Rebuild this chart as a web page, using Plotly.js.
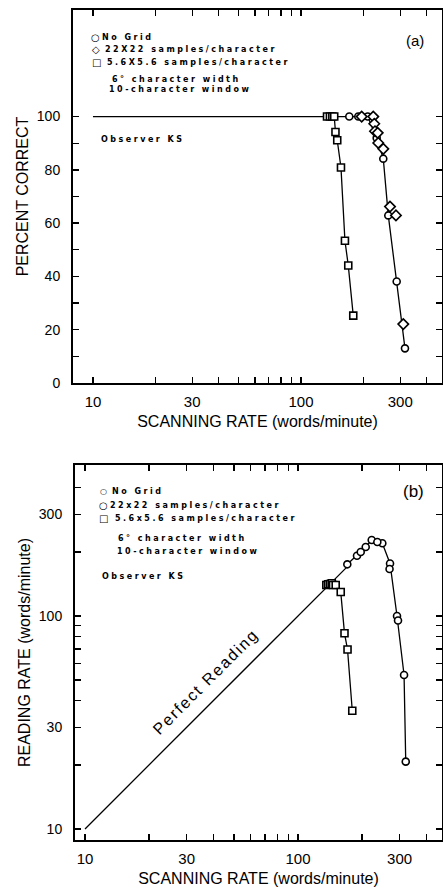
<!DOCTYPE html>
<html>
<head>
<meta charset="utf-8">
<script src="https://cdn.plot.ly/plotly-3.0.1.min.js"></script>
<style>
html,body{margin:0;padding:0;background:#fff;}
#chart{width:443px;height:889px;}
</style>
</head>
<body>
<div id="chart"></div>
<script>
// ---------- DATA ----------
// Panel (a): percent correct vs scanning rate
const perfectA_x = [10, 170.7];
const perfectA_y = [100, 100];
const noGridA_x = [170.7, 188.6, 209.3, 231.2, 248.7, 262.9, 288.5, 316.2];
const noGridA_y = [100, 100, 100, 92.0, 84.2, 62.9, 38.1, 13.0];
const grid22A_x = [195.8, 222.6, 225.1, 226.9, 233.8, 235.3, 248.7, 267.9, 286.2, 310.3];
const grid22A_y = [100, 100, 97.3, 94.5, 93.9, 90.1, 87.9, 66.2, 62.9, 22.1];
const grid56A_x = [133.4, 137.8, 141.5, 144.5, 146.5, 149.4, 155.7, 162.7, 168.8, 178.4];
const grid56A_y = [100, 100, 100, 100, 94.2, 91.1, 80.9, 53.4, 44.1, 25.3];

// Panel (b): reading rate vs scanning rate
const perfectB_x = [10, 170];
const perfectB_y = [10, 170];
const noGridB_x = [170.4, 207.9, 221.8, 248.8, 270.4, 291.6, 314.7, 320.5];
const noGridB_y = [174.8, 210.9, 227.4, 219.4, 176.4, 100, 52.8, 20.7];
const grid22B_x = [189.2, 197.0, 235.7, 269.0, 294.8];
const grid22B_y = [191.9, 199.8, 222.6, 166.3, 95.2];
const grid56B_x = [135.8, 138.5, 141.3, 144.0, 146.0, 150.3, 158.7, 165.3, 170.8, 179.8];
const grid56B_y = [139.8, 141.0, 141.3, 142.5, 139.8, 139.8, 129.6, 82.9, 69.6, 35.9];

// Tick values / labels
const logTickVals = [10,20,30,40,50,60,70,80,90,100,200,300,400];
const logTickText = ['10','','30','','','','','','','100','','300',''];
const pctTickVals = [0,10,20,30,40,50,60,70,80,90,100];
const pctTickText = ['0','','20','','40','','60','','80','','100'];

const seriesNamesA = ['No Grid', '22X22 samples/character', '5.6X5.6 samples/character'];
const seriesNamesB = ['No Grid', '22x22 samples/character', '5.6x5.6 samples/character'];
const noteLines = ['6° character width', '10-character window', 'Observer KS'];

// ---------- TRACES ----------
const lineStyle = {color:'#000', width:1.3};
function mk(symbol, size){ return {symbol:symbol, size:size, color:'#fff', line:{color:'#000', width:1.6}}; }

const traces = [
  {x:perfectA_x, y:perfectA_y, xaxis:'x', yaxis:'y', mode:'lines', line:lineStyle, hoverinfo:'skip'},
  {x:grid56A_x, y:grid56A_y, xaxis:'x', yaxis:'y', mode:'lines+markers', line:lineStyle, marker:mk('square',7), name:seriesNamesA[2]},
  {x:noGridA_x, y:noGridA_y, xaxis:'x', yaxis:'y', mode:'lines+markers', line:lineStyle, marker:mk('circle',7), name:seriesNamesA[0]},
  {x:grid22A_x, y:grid22A_y, xaxis:'x', yaxis:'y', mode:'markers', marker:mk('diamond',8), name:seriesNamesA[1]},

  {x:perfectB_x, y:perfectB_y, xaxis:'x2', yaxis:'y2', mode:'lines', line:lineStyle, hoverinfo:'skip'},
  {x:grid56B_x, y:grid56B_y, xaxis:'x2', yaxis:'y2', mode:'lines+markers', line:lineStyle, marker:mk('square',7), name:seriesNamesB[2]},
  {x:noGridB_x, y:noGridB_y, xaxis:'x2', yaxis:'y2', mode:'lines+markers', line:lineStyle, marker:mk('circle',7), name:seriesNamesB[0]},
  {x:grid22B_x, y:grid22B_y, xaxis:'x2', yaxis:'y2', mode:'markers', marker:mk('circle',7), name:seriesNamesB[1]}
];

// ---------- LAYOUT ----------
const L = 73, R = 442, T = 10, B = 840;
const W = R - L, H = B - T;
const px = x => (x - L) / W;
const py = y => (B - y) / H;

const axisCommon = {
  showline:true, linecolor:'#000', linewidth:2, mirror:'ticks',
  ticks:'inside', ticklen:6, tickwidth:1.4, tickcolor:'#000',
  showgrid:false, zeroline:false, automargin:false,
  tickfont:{size:15, color:'#000'}
};

const FONT = 'Liberation Sans, Arial, Helvetica, sans-serif';
const LFONT = 'DejaVu Sans, sans-serif';
const sp = t => '<span style="letter-spacing:2.5px">' + t + '</span>';

const ann = [];
function addText(t, x, y, size, opts){
  ann.push(Object.assign({text:t, xref:'paper', yref:'paper', x:px(x), y:py(y),
    xanchor:'left', yanchor:'middle', showarrow:false,
    font:{family:LFONT, size:size, color:'#000', weight:'bold'}}, opts||{}));
}
// Panel (a) legend
addText('○', 95, 37, 10, {xanchor:'center'});
addText('◇', 96, 49.5, 10, {xanchor:'center'});
addText('□', 96, 62.5, 10, {xanchor:'center'});
addText(sp(seriesNamesA[0]), 100, 37, 8);
addText(sp(seriesNamesA[1]), 103, 49.5, 8);
addText(sp(seriesNamesA[2]), 105, 62.5, 8);
addText(sp(noteLines[0]), 110, 79, 8);
addText(sp(noteLines[1]), 107, 90, 8);
addText(sp(noteLines[2]), 99, 140, 8);
addText('(a)', 415, 40, 15, {xanchor:'center', font:{family:FONT, size:15, color:'#000'}});
// Panel (b) legend
addText('○', 103, 492, 8, {xanchor:'center'});
addText('○', 103, 505, 10, {xanchor:'center'});
addText('□', 103, 518, 10, {xanchor:'center'});
addText(sp(seriesNamesB[0]), 110, 492, 8);
addText(sp(seriesNamesB[1]), 108, 505, 8);
addText(sp(seriesNamesB[2]), 113, 518, 8);
addText(sp(noteLines[0]), 116, 538, 8);
addText(sp(noteLines[1]), 115, 551, 8);
addText(sp(noteLines[2]), 100, 576, 8);
addText('(b)', 413, 492, 17, {xanchor:'center', font:{family:FONT, size:17, color:'#000'}});
// Perfect Reading label along the diagonal
ann.push({text:'<span style="letter-spacing:1.8px">Perfect Reading</span>', xref:'x2', yref:'y2',
  x:Math.log10(37), y:Math.log10(49),
  textangle:-45, showarrow:false, xanchor:'center', yanchor:'middle',
  font:{family:FONT, size:16, color:'#000'}});

const layout = {
  width:443, height:889,
  margin:{l:L, r:443-R, t:T, b:889-B, pad:0},
  paper_bgcolor:'#fff', plot_bgcolor:'#fff',
  showlegend:false,
  font:{family:FONT, color:'#000', size:14},
  xaxis:Object.assign({}, axisCommon, {
    type:'log', range:[0.904, 2.678], domain:[0,1], anchor:'y',
    tickvals:logTickVals, ticktext:logTickText, ticklabelstandoff:4,
    title:{text:'SCANNING RATE (words/minute)', font:{size:16, family:FONT}, standoff:7}
  }),
  yaxis:Object.assign({}, axisCommon, {
    range:[0,140], domain:[py(383),1], anchor:'x',
    tickvals:pctTickVals, ticktext:pctTickText, ticklabelstandoff:8,
    tickfont:{size:14, color:'#000'},
    title:{text:'PERCENT CORRECT', font:{size:16, family:FONT}, standoff:4}
  }),
  xaxis2:Object.assign({}, axisCommon, {
    type:'log', range:[0.953, 2.676], domain:[px(75),1], anchor:'y2',
    tickvals:logTickVals, ticktext:logTickText, ticklabelstandoff:4,
    title:{text:'SCANNING RATE (words/minute)', font:{size:16, family:FONT}, standoff:7}
  }),
  yaxis2:Object.assign({}, axisCommon, {
    type:'log', range:[0.948, 2.709], domain:[0, py(465)], anchor:'x2',
    tickvals:logTickVals, ticktext:logTickText, ticklabelstandoff:8,
    tickfont:{size:14, color:'#000'},
    title:{text:'READING RATE (words/minute)', font:{size:16, family:FONT}, standoff:4}
  }),
  annotations:ann
};

Plotly.newPlot('chart', traces, layout, {staticPlot:true, displayModeBar:false});
</script>
</body>
</html>
